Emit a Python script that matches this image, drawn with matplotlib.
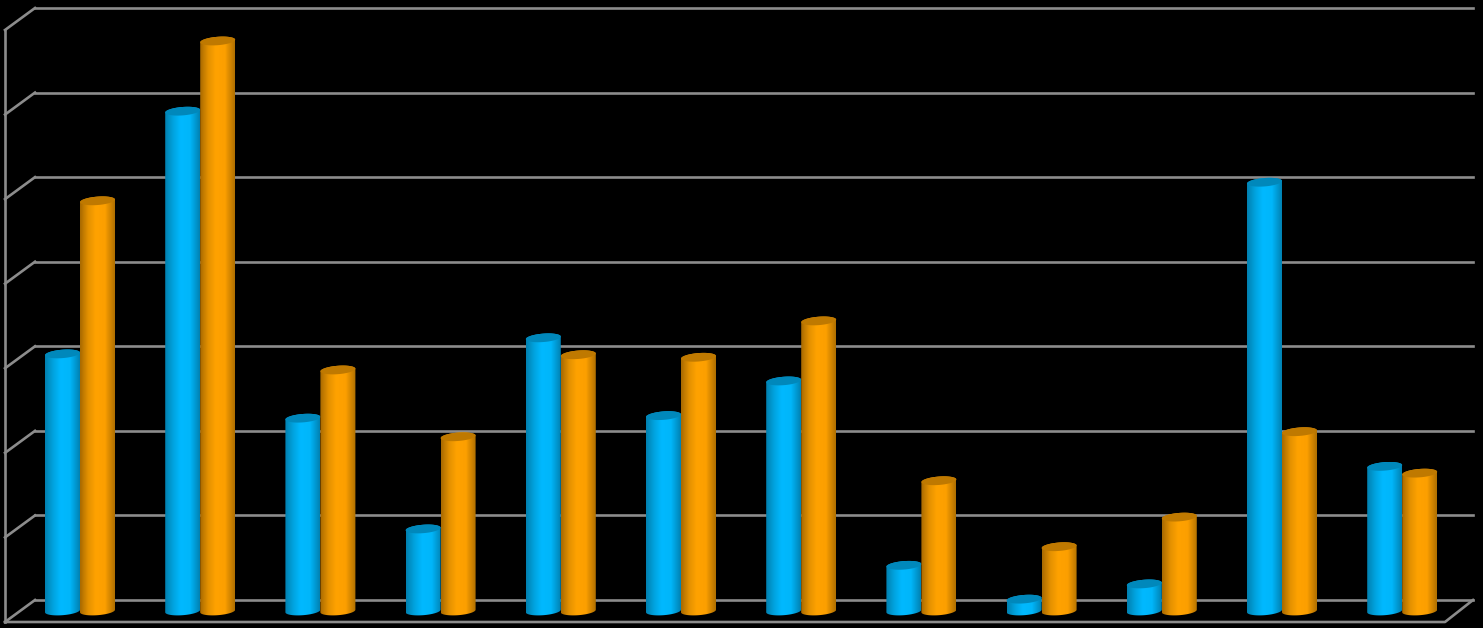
import numpy as np
import matplotlib
matplotlib.use("Agg")
import matplotlib.pyplot as plt
from matplotlib.colors import LinearSegmentedColormap
from matplotlib.patches import PathPatch, Polygon
from matplotlib.path import Path

# values in grid steps
blue_vals = [3.04, 5.91, 2.28, 0.97, 3.23, 2.31, 2.72, 0.54, 0.14, 0.32, 5.07, 1.71]
orange_vals = [4.85, 6.74, 2.85, 2.06, 3.03, 3.00, 3.43, 1.54, 0.76, 1.11, 2.12, 1.63]
grid_vals = [0, 1, 2, 3, 4, 5, 6, 7]

# pixel scale of the chart
step_x = 120.2
step_y = 84.57
left_x = 80
base_y = 611

W, H = 1483, 628
bar_w = 35 / step_x
ell_h = 4.2 / step_y
tilt = 1.3 / step_y
wall_dy = 11 / step_y     # back wall sits higher than the bar base
front_dy = -11 / step_y   # front edge sits lower


def xp(px):
    return (px - left_x) / step_x


def cylinder(ax, x0, val, cmap, cap):
    t = np.linspace(np.pi, 2 * np.pi, 40)
    cx = x0 + bar_w / 2
    xs = cx + bar_w / 2 * np.cos(t)
    low = ell_h * np.sin(t) + tilt * np.cos(t)
    top = val + ell_h * np.sin(t[::-1]) * -1 + tilt * np.cos(t[::-1])
    verts = np.vstack([np.column_stack([xs, low]),
                       np.column_stack([xs[::-1], top]),
                       [[xs[0], low[0]]]])
    body = PathPatch(Path(verts), transform=ax.transData, fc="none", ec="none")
    ax.add_patch(body)
    grad = np.linspace(0, 1, 64).reshape(1, -1)
    im = ax.imshow(grad, cmap=cmap, aspect="auto", interpolation="bilinear",
                   extent=(x0, x0 + bar_w, -0.2, val + 0.2), zorder=3)
    im.set_clip_path(body)
    # top face
    t2 = np.linspace(0, 2 * np.pi, 60)
    ex = cx + bar_w / 2 * np.cos(t2)
    ey = val + ell_h * np.sin(t2) + tilt * np.cos(t2)
    ax.add_patch(Polygon(np.column_stack([ex, ey]), closed=True, fc=cap, ec="none", zorder=3))


blue_map = LinearSegmentedColormap.from_list(
    "blue_cyl", [(0, "#0080b0"), (0.22, "#00a2dd"), (0.45, "#00b9ff"), (0.72, "#00b6fa"), (1, "#0082b3")])
orange_map = LinearSegmentedColormap.from_list(
    "orange_cyl", [(0, "#a96a00"), (0.22, "#e29000"), (0.45, "#ffa200"), (0.72, "#fc9f00"), (1, "#b07000")])

fig = plt.figure(figsize=(W / 100, H / 100), dpi=100, facecolor="black")
ax = fig.add_axes([0, 0, 1, 1], facecolor="black")
ax.axis("off")

line = dict(color="#8c8c8c", lw=1.9, solid_capstyle="projecting", zorder=1)

# back wall grid and the slanted bits on the left side
for g in grid_vals:
    gy = g + wall_dy
    ax.plot([xp(35), xp(1473)], [gy, gy], **line)
    ax.plot([xp(5), xp(35)], [g + front_dy, gy], **line)

# left edge and floor
ax.plot([xp(5), xp(5)], [front_dy, grid_vals[-1] + front_dy], **line)
ax.plot([xp(5), xp(1445), xp(1473)], [front_dy, front_dy, wall_dy], **line)

for i in range(len(blue_vals)):
    cylinder(ax, i - bar_w, blue_vals[i], blue_map, "#0088bb")
    cylinder(ax, i, orange_vals[i], orange_map, "#bf7900")

ax.set_xlim(xp(0), xp(W))
ax.set_ylim((base_y - H) / step_y, base_y / step_y)

fig.savefig("out.png", dpi=100, facecolor="black")
